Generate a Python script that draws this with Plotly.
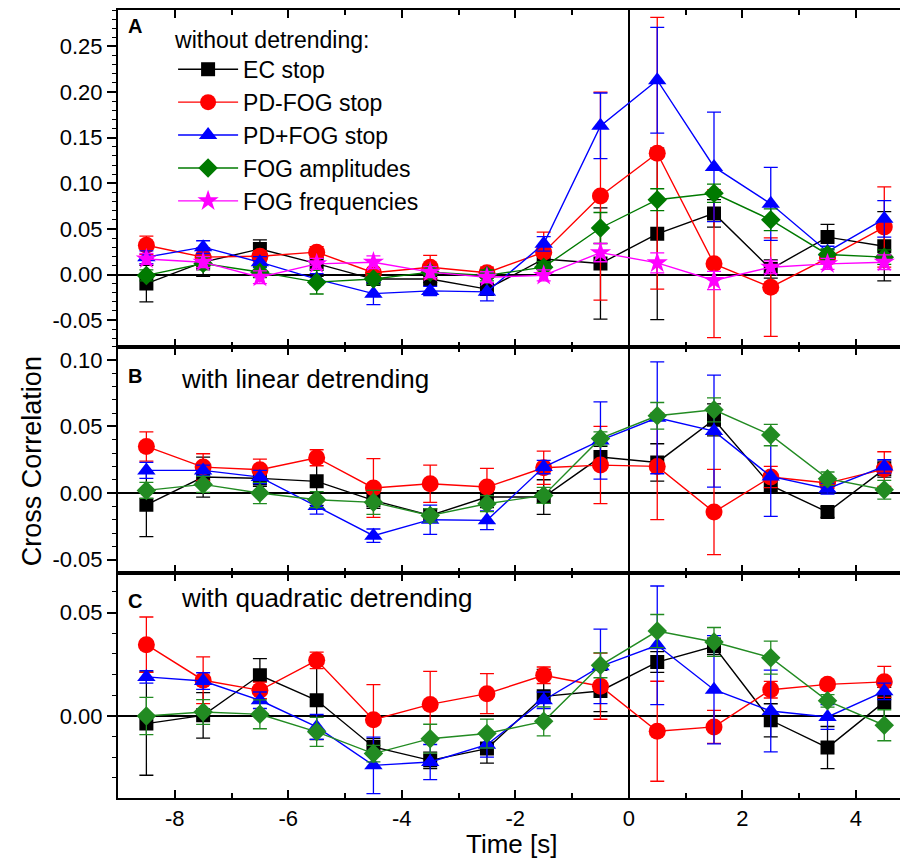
import plotly.graph_objects as go
from plotly.subplots import make_subplots

time_s = [-8.5, -7.5, -6.5, -5.5, -4.5, -3.5, -2.5, -1.5, -0.5, 0.5, 1.5, 2.5, 3.5, 4.5]

# Panel A: without detrending
a_ec = [-0.010, 0.0135, 0.028, 0.012, -0.005, -0.005, -0.016, 0.017, 0.012, 0.0446, 0.067, 0.006, 0.041, 0.031]
a_ec_err = [0.020, 0.0155, 0.010, 0.014, 0.004, 0.004, 0.006, 0.006, 0.061, 0.094, 0.015, 0.010, 0.014, 0.038]
a_pdfog = [0.032, 0.019, 0.020, 0.0245, 0.002, 0.008, 0.002, 0.0245, 0.086, 0.133, 0.0117, -0.0139, 0.018, 0.052]
a_pdfog_err = [0.010, 0.010, 0.006, 0.006, 0.004, 0.013, 0.006, 0.022, 0.114, 0.149, 0.081, 0.054, 0.006, 0.044]
a_pdpfog = [0.019, 0.030, 0.0135, -0.005, -0.021, -0.018, -0.019, 0.0336, 0.163, 0.213, 0.118, 0.0775, 0.025, 0.061]
a_pdpfog_err = [0.007, 0.007, 0.006, 0.006, 0.012, 0.005, 0.010, 0.008, 0.036, 0.058, 0.060, 0.040, 0.006, 0.020]
a_amp = [-0.001, 0.012, 0.0026, -0.0084, -0.005, 0.0026, -0.001, 0.008, 0.051, 0.082, 0.089, 0.060, 0.022, 0.019]
a_amp_err = [0.006, 0.007, 0.006, 0.013, 0.006, 0.006, 0.006, 0.006, 0.017, 0.012, 0.010, 0.012, 0.006, 0.008]
a_freq = [0.017, 0.0135, -0.003, 0.0117, 0.0135, 0.0026, -0.003, -0.001, 0.024, 0.0128, -0.0066, 0.008, 0.0117, 0.0135]
a_freq_err = [0.006, 0.006, 0.007, 0.006, 0.007, 0.006, 0.006, 0.006, 0.010, 0.011, 0.010, 0.007, 0.006, 0.008]

# Panel B: with linear detrending
b_ec = [-0.0088, 0.012, 0.011, 0.0088, -0.0055, -0.0168, -0.003, -0.003, 0.027, 0.023, 0.055, 0.0058, -0.0143, 0.018]
b_ec_err = [0.024, 0.015, 0.006, 0.018, 0.006, 0.005, 0.008, 0.013, 0.008, 0.014, 0.012, 0.006, 0.004, 0.006]
b_pdfog = [0.035, 0.0195, 0.0175, 0.0265, 0.0038, 0.007, 0.0045, 0.019, 0.021, 0.020, -0.0143, 0.012, 0.0075, 0.018]
b_pdfog_err = [0.011, 0.010, 0.008, 0.006, 0.022, 0.014, 0.014, 0.0125, 0.029, 0.040, 0.032, 0.008, 0.004, 0.013]
b_pdpfog = [0.017, 0.017, 0.012, -0.0098, -0.032, -0.020, -0.0205, 0.0195, 0.0395, 0.0565, 0.0465, 0.0125, 0.0033, 0.020]
b_pdpfog_err = [0.006, 0.004, 0.005, 0.006, 0.005, 0.011, 0.007, 0.005, 0.029, 0.042, 0.042, 0.030, 0.004, 0.005]
b_amp = [0.002, 0.0065, 0.0, -0.005, -0.007, -0.0168, -0.008, -0.0018, 0.041, 0.058, 0.0625, 0.0435, 0.0108, 0.0025]
b_amp_err = [0.006, 0.006, 0.008, 0.006, 0.009, 0.005, 0.006, 0.006, 0.005, 0.010, 0.009, 0.008, 0.005, 0.007]

# Panel C: with quadratic detrending
c_ec = [-0.0037, 0.0003, 0.0197, 0.0076, -0.015, -0.0215, -0.0158, 0.0095, 0.0121, 0.0261, 0.0337, -0.0021, -0.0153, 0.0068]
c_ec_err = [0.025, 0.011, 0.008, 0.019, 0.004, 0.004, 0.007, 0.013, 0.010, 0.005, 0.004, 0.008, 0.0102, 0.007]
c_pdfog = [0.0345, 0.0173, 0.0124, 0.0269, -0.0018, 0.0056, 0.0108, 0.0197, 0.0144, -0.0074, -0.0053, 0.0127, 0.0153, 0.0165]
c_pdfog_err = [0.0134, 0.0113, 0.004, 0.004, 0.017, 0.016, 0.0097, 0.004, 0.016, 0.0242, 0.008, 0.004, 0.002, 0.0075]
c_pdpfog = [0.0189, 0.0169, 0.0076, -0.0053, -0.0239, -0.0223, -0.0139, 0.0076, 0.024, 0.0342, 0.0127, 0.0024, -0.0005, 0.0119]
c_pdpfog_err = [0.003, 0.004, 0.004, 0.006, 0.0137, 0.0085, 0.006, 0.004, 0.018, 0.0287, 0.0262, 0.0198, 0.006, 0.004]
c_amp = [0.0, 0.0019, 0.0008, -0.0077, -0.0182, -0.011, -0.0085, -0.0026, 0.0245, 0.0411, 0.0358, 0.0282, 0.0073, -0.0045]
c_amp_err = [0.009, 0.006, 0.007, 0.007, 0.004, 0.007, 0.007, 0.007, 0.006, 0.008, 0.007, 0.008, 0.003, 0.0075]

series_names = ["EC stop", "PD-FOG stop", "PD+FOG stop", "FOG amplitudes", "FOG frequencies"]
x_tickvals = [-8, -6, -4, -2, 0, 2, 4]
x_ticktext = ["-8", "-6", "-4", "-2", "0", "2", "4"]
ya_tickvals = [-0.05, 0.0, 0.05, 0.10, 0.15, 0.20, 0.25]
ya_ticktext = ["-0.05", "0.00", "0.05", "0.10", "0.15", "0.20", "0.25"]
yb_tickvals = [-0.05, 0.0, 0.05, 0.10]
yb_ticktext = ["-0.05", "0.00", "0.05", "0.10"]
yc_tickvals = [0.0, 0.05]
yc_ticktext = ["0.00", "0.05"]

FONT = "Liberation Sans, Arial, sans-serif"
styles = [
    dict(color="#000000", symbol="square", size=14),
    dict(color="#ff0000", symbol="circle", size=17),
    dict(color="#0000ff", symbol="triangle-up", size=16),
    dict(color="#007a00", symbol="diamond", size=15),
    dict(color="#ff00ff", symbol="star", size=16),
]

fig = make_subplots(rows=3, cols=1, shared_xaxes=True, vertical_spacing=0,
                    row_heights=[0.4271, 0.2868, 0.2861])

panels = [
    (1, [(a_ec, a_ec_err), (a_pdfog, a_pdfog_err), (a_pdpfog, a_pdpfog_err), (a_amp, a_amp_err), (a_freq, a_freq_err)]),
    (2, [(b_ec, b_ec_err), (b_pdfog, b_pdfog_err), (b_pdpfog, b_pdpfog_err), (b_amp, b_amp_err)]),
    (3, [(c_ec, c_ec_err), (c_pdfog, c_pdfog_err), (c_pdpfog, c_pdpfog_err), (c_amp, c_amp_err)]),
]

for row, data in panels:
    for i, (vals, errs) in enumerate(data):
        st = styles[i]
        col = st["color"]
        if row > 1 and i == 3:
            col = "#228b22"
        fig.add_trace(go.Scatter(
            x=time_s, y=vals, mode="lines+markers", name=series_names[i],
            showlegend=(row == 1),
            line=dict(color=col, width=1.4),
            marker=dict(color=col, symbol=st["symbol"], size=st["size"], line=dict(width=0)),
            error_y=dict(type="data", array=errs, visible=True, color=col, thickness=1.3, width=7),
        ), row=row, col=1)

axis_common = dict(showline=True, linecolor="black", linewidth=2, mirror="allticks",
                   showgrid=False, tickcolor="black",
                   tickfont=dict(family=FONT, size=22, color="black"))

for r in (1, 2, 3):
    fig.update_xaxes(range=[-9.0, 4.865], tickmode="array", tickvals=x_tickvals, ticktext=x_ticktext,
                     ticks="inside", ticklen=8, tickwidth=1.5,
                     minor=dict(dtick=1, tick0=0, ticks="inside", ticklen=5, tickwidth=1.5, tickcolor="black"),
                     zeroline=True, zerolinecolor="black", zerolinewidth=2,
                     showticklabels=(r == 3), **axis_common, row=r, col=1)

yranges = [[-0.079, 0.290], [-0.0597, 0.110], [-0.0397, 0.0694]]
yticks = [(ya_tickvals, ya_ticktext), (yb_tickvals, yb_ticktext), (yc_tickvals, yc_ticktext)]
for r in (1, 2, 3):
    tv, tt = yticks[r - 1]
    fig.update_yaxes(range=yranges[r - 1], tickmode="array", tickvals=tv, ticktext=tt,
                     ticks="outside", ticklen=9, tickwidth=1.5,
                     minor=dict(dtick=0.01, tick0=0, ticks="outside", ticklen=4, tickwidth=1.2, tickcolor="black"),
                     zeroline=True, zerolinecolor="black", zerolinewidth=2,
                     **axis_common, row=r, col=1)

annos = [
    dict(text="<b>A</b>", x=0.01, y=0.980, size=20),
    dict(text="<b>B</b>", x=0.01, y=0.535, size=20),
    dict(text="<b>C</b>", x=0.01, y=0.250, size=20),
    dict(text="with linear detrending", x=0.0777, y=0.532, size=26),
    dict(text="with quadratic detrending", x=0.0777, y=0.2535, size=26),
]
for a in annos:
    fig.add_annotation(text=a["text"], xref="paper", yref="paper", x=a["x"], y=a["y"],
                       xanchor="left", yanchor="middle", showarrow=False,
                       font=dict(family=FONT, size=a["size"], color="black"))

fig.add_annotation(text="Cross Correlation", xref="paper", yref="paper", x=-0.110, y=0.428,
                   textangle=-90, xanchor="center", yanchor="middle", showarrow=False,
                   font=dict(family=FONT, size=27, color="black"))
fig.add_annotation(text="Time [s]", xref="paper", yref="paper", x=0.5, y=-0.058,
                   xanchor="center", yanchor="middle", showarrow=False,
                   font=dict(family=FONT, size=26, color="black"))

fig.update_layout(
    width=908, height=852,
    margin=dict(l=110, r=0, t=1, b=62),
    paper_bgcolor="white", plot_bgcolor="white",
    font=dict(family=FONT, color="black"),
    legend=dict(x=0.070, y=0.99, xanchor="left", yanchor="top",
                bgcolor="rgba(0,0,0,0)", borderwidth=0,
                font=dict(family=FONT, size=23, color="black"),
                title=dict(text="without detrending:", font=dict(family=FONT, size=23, color="black")),
                itemwidth=60, tracegroupgap=0),
)

fig.write_html("out.html")
